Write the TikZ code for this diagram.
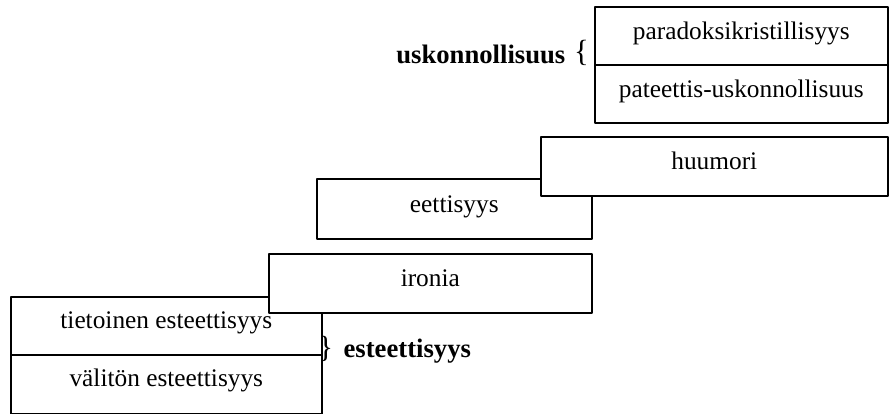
\documentclass[tikz,border=0pt]{standalone}
\usepackage{fontspec}
\setmainfont{Liberation Serif}
\begin{document}
\begin{tikzpicture}[x=0.75pt, y=-0.75pt, line join=round,
		stage/.style={draw, fill=white, line width=1.2pt, anchor=north west, inner sep=0pt,
			text height=13pt, text depth=7.5pt, font=\fontsize{19}{22}\selectfont},
		grouplbl/.style={inner sep=0pt, font=\fontsize{20}{22}\selectfont}]
	\def\px{0.75pt}
	\def\brc#1{{\fontsize{23}{24}\selectfont#1}}
	\useasboundingbox (0,0) rectangle (889,414);
	% esteettinen vaihe
	\node[stage, text depth=9.5pt, minimum width=311*\px, minimum height=58*\px] (tiet) at (10,296) {tietoinen esteettisyys};
	\node[stage, text depth=9.5pt, minimum width=311*\px, minimum height=59*\px] (valit) at (10,354) {välitön esteettisyys};
	\node[grouplbl, anchor=base west] (est) at (318,357) {\brc{\}}\hspace{8pt}\textbf{esteettisyys}};
	% rajatilat ja eettinen vaihe
	\node[stage, minimum width=323*\px, minimum height=59*\px] (iron) at (268,253) {ironia};
	\node[stage, minimum width=275*\px, minimum height=60*\px] (eett) at (316,178) {eettisyys};
	\node[stage, minimum width=347*\px, minimum height=59*\px] (huum) at (540,136) {huumori};
	% uskonnollinen vaihe
	\node[stage, minimum width=293*\px, minimum height=58*\px] (parad) at (594,6) {paradoksikristillisyys};
	\node[stage, minimum width=293*\px, minimum height=58*\px] (pat) at (594,64) {pateettis-uskonnollisuus};
	\node[grouplbl, anchor=base east] (usk) at (589,63) {\textbf{uskonnollisuus}\hspace{6.5pt}\raisebox{1.5pt}{\brc{\{}}};
\end{tikzpicture}
\end{document}
